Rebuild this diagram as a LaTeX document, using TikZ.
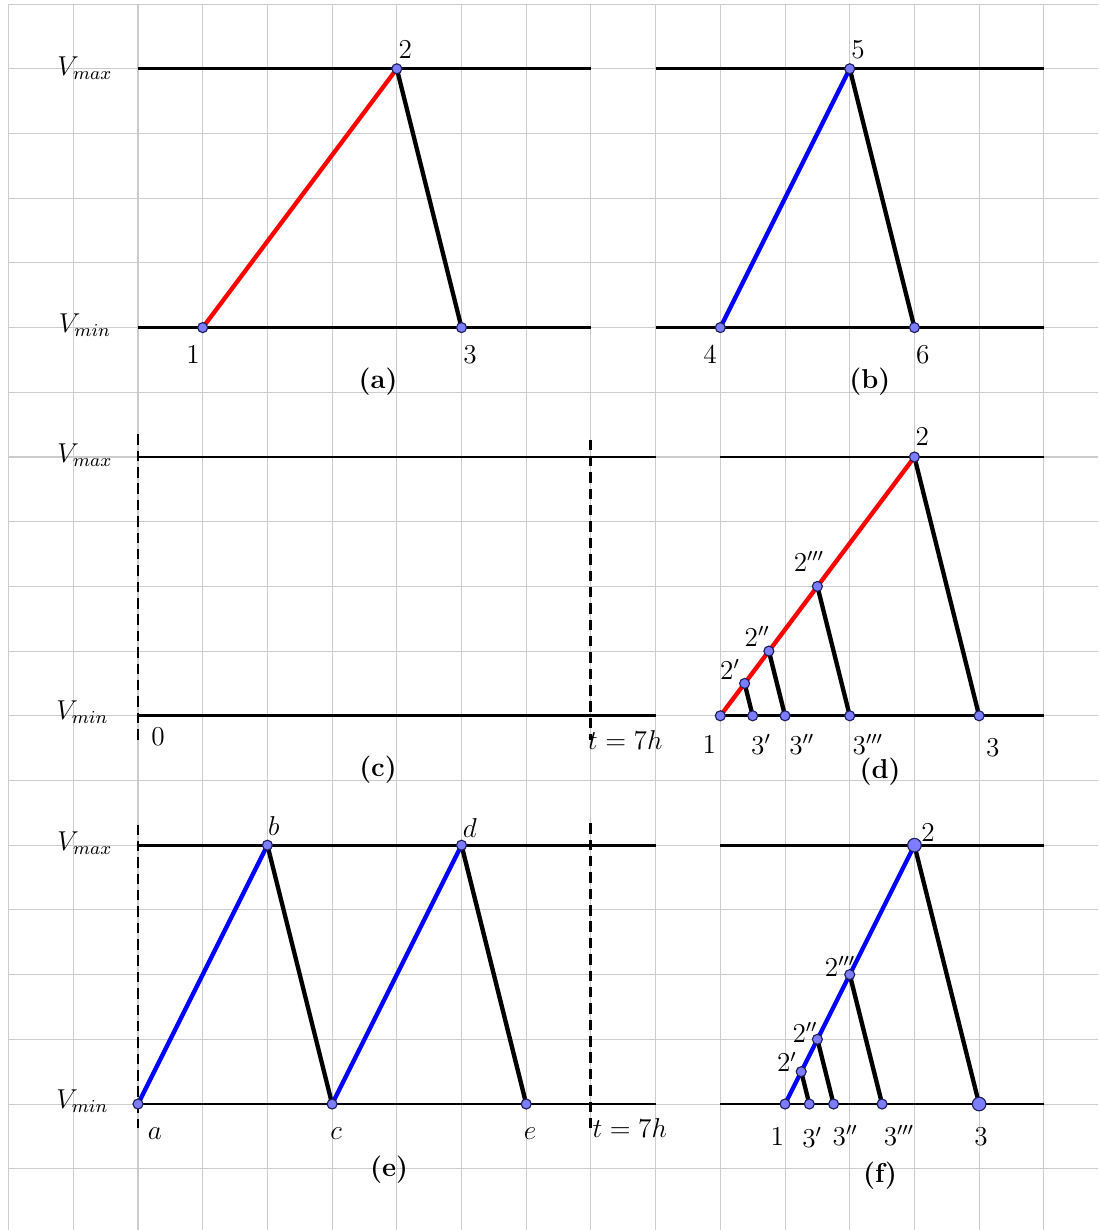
\documentclass[tikz,border=0pt]{standalone}
\usepackage{amsmath}
\usetikzlibrary{calc}
\definecolor{gridgray}{RGB}{204,204,204}
\definecolor{dotfill}{RGB}{125,125,255}
\definecolor{dotline}{RGB}{30,30,90}

\tikzset{
  level/.style={line width=1.2pt},
  ramp/.style={line width=1.9pt},
  bound/.style={line width=1.3pt, dash pattern=on 4.6pt off 2.6pt},
  dot/.style={circle, fill=dotfill, draw=dotline, line width=0.5pt, inner sep=0pt, minimum size=0.155cm},
  bigdot/.style={dot, minimum size=0.21cm},
  lbl/.style={font=\large, inner sep=1pt},
}

\begin{document}
\begin{tikzpicture}
% Frame and grid
\useasboundingbox (-2.133,-1.947) rectangle (14.838,17.063);
\draw[gridgray, line width=0.45pt] (-2,-1.947) grid (14.838,17);

% Points of all panels
\coordinate (a-1) at (1,12);  \coordinate (a-2) at (4,16);  \coordinate (a-3) at (5,12);
\coordinate (b-4) at (9,12);  \coordinate (b-5) at (11,16); \coordinate (b-6) at (12,12);
\coordinate (d-1) at (9,6);   \coordinate (d-2) at (12,10); \coordinate (d-3) at (13,6);
\coordinate (d-2p) at (9.375,6.5); \coordinate (d-3p) at (9.5,6);
\coordinate (d-2pp) at (9.75,7);   \coordinate (d-3pp) at (10,6);
\coordinate (d-2ppp) at (10.5,8);  \coordinate (d-3ppp) at (11,6);
\coordinate (e-a) at (0,0); \coordinate (e-b) at (2,4); \coordinate (e-c) at (3,0);
\coordinate (e-d) at (5,4); \coordinate (e-e) at (6,0);
\coordinate (f-1) at (10,0);  \coordinate (f-2) at (12,4); \coordinate (f-3) at (13,0);
\coordinate (f-2p) at (10.25,0.5); \coordinate (f-3p) at (10.375,0);
\coordinate (f-2pp) at (10.5,1);   \coordinate (f-3pp) at (10.75,0);
\coordinate (f-2ppp) at (11,2);    \coordinate (f-3ppp) at (11.5,0);

% Level lines
\foreach \y in {16,12} {
  \draw[level] (0,\y) coordinate (L-\y) -- (7,\y) coordinate (R-\y);
  \draw[level] (8,\y) coordinate (LL-\y) -- (14,\y) coordinate (RR-\y);
}
\foreach \y in {10,6,4,0} {
  \draw[level] (0,\y) coordinate (L-\y) -- (8,\y) coordinate (R-\y);
  \draw[level] (9,\y) coordinate (LL-\y) -- (14,\y) coordinate (RR-\y);
}

% Time bounds
\coordinate (c-t0a) at (0,10.35); \coordinate (c-t0b) at (0,5.63);
\coordinate (c-t7a) at (7,10.27); \coordinate (c-t7b) at (7,5.63);
\coordinate (e-t0a) at (0,4.32);  \coordinate (e-t0b) at (0,-0.37);
\coordinate (e-t7a) at (7,4.34);  \coordinate (e-t7b) at (7,-0.37);
\draw[bound] (c-t0a) -- (c-t0b);
\draw[bound] (c-t7a) -- (c-t7b);
\draw[bound] (e-t0a) -- (e-t0b);
\draw[bound] (e-t7a) -- (e-t7b);

% Ramps
\draw[ramp, red] (a-1) -- (a-2);
\draw[ramp] (a-2) -- (a-3);
\draw[ramp, blue] (b-4) -- (b-5);
\draw[ramp] (b-5) -- (b-6);
\draw[ramp, red] (d-1) -- (d-2);
\draw[ramp] (d-2) -- (d-3);
\draw[ramp] (d-2p) -- (d-3p);
\draw[ramp] (d-2pp) -- (d-3pp);
\draw[ramp] (d-2ppp) -- (d-3ppp);
\draw[ramp, blue] (e-a) -- (e-b);
\draw[ramp] (e-b) -- (e-c);
\draw[ramp, blue] (e-c) -- (e-d);
\draw[ramp] (e-d) -- (e-e);
\draw[ramp, blue] (f-1) -- (f-2);
\draw[ramp] (f-2) -- (f-3);
\draw[ramp] (f-2p) -- (f-3p);
\draw[ramp] (f-2pp) -- (f-3pp);
\draw[ramp] (f-2ppp) -- (f-3ppp);

% Dots
\foreach \p in {a-1,a-2,a-3,b-4,b-5,b-6,d-1,d-2,d-3,d-2p,d-3p,d-2pp,d-3pp,d-2ppp,d-3ppp,
                e-a,e-b,e-c,e-d,e-e,f-1,f-2p,f-3p,f-2pp,f-3pp,f-2ppp,f-3ppp}
  \node[dot] (dot-\p) at (\p) {};
\node[bigdot] (dot-f-2) at (f-2) {};
\node[bigdot] (dot-f-3) at (f-3) {};

% Level names
\node[lbl] (vmax-a) at (-0.82,16.01) {$V_{max}$};
\node[lbl] (vmin-a) at (-0.82,12.04) {$V_{min}$};
\node[lbl] (vmax-c) at (-0.82,10.03) {$V_{max}$};
\node[lbl] (vmin-c) at (-0.86,6.06) {$V_{min}$};
\node[lbl] (vmax-e) at (-0.82,4.03) {$V_{max}$};
\node[lbl] (vmin-e) at (-0.86,0.05) {$V_{min}$};

% Panel (a)
\node[lbl] (la-1) at (0.85,11.58) {$1$};
\node[lbl] (la-2) at (4.13,16.29) {$2$};
\node[lbl] (la-3) at (5.13,11.58) {$3$};
\node[lbl] (cap-a) at (3.71,11.16) {\textbf{(a)}};

% Panel (b)
\node[lbl] (lb-4) at (8.84,11.58) {$4$};
\node[lbl] (lb-5) at (11.13,16.29) {$5$};
\node[lbl] (lb-6) at (12.13,11.58) {$6$};
\node[lbl] (cap-b) at (11.31,11.16) {\textbf{(b)}};

% Panel (c)
\node[lbl] (lc-0) at (0.31,5.67) {$0$};
\node[lbl] (lc-t) at (7.53,5.63) {$t=7h$};
\node[lbl] (cap-c) at (3.71,5.16) {\textbf{(c)}};

% Panel (d)
\node[lbl] (ld-2) at (12.12,10.31) {$2$};
\node[lbl] (ld-2ppp) at (10.37,8.38) {$2'''$};
\node[lbl] (ld-2pp) at (9.57,7.23) {$2''$};
\node[lbl] (ld-2p) at (9.15,6.71) {$2'$};
\node[lbl] (ld-1) at (8.83,5.56) {$1$};
\node[lbl] (ld-3p) at (9.63,5.56) {$3'$};
\node[lbl] (ld-3pp) at (10.26,5.56) {$3''$};
\node[lbl] (ld-3ppp) at (11.28,5.56) {$3'''$};
\node[lbl] (ld-3) at (13.21,5.50) {$3$};
\node[lbl] (cap-d) at (11.47,5.13) {\textbf{(d)}};

% Panel (e)
\node[lbl] (le-a) at (0.26,-0.45) {$a$};
\node[lbl] (le-b) at (2.10,4.30) {$b$};
\node[lbl] (le-c) at (3.06,-0.45) {$c$};
\node[lbl] (le-d) at (5.13,4.27) {$d$};
\node[lbl] (le-e) at (6.06,-0.45) {$e$};
\node[lbl] (le-t) at (7.60,-0.37) {$t=7h$};
\node[lbl] (cap-e) at (3.88,-1.02) {\textbf{(e)}};

% Panel (f)
\node[lbl] (lf-2) at (12.21,4.19) {$2$};
\node[lbl] (lf-2ppp) at (10.85,2.13) {$2'''$};
\node[lbl] (lf-2pp) at (10.31,1.11) {$2''$};
\node[lbl] (lf-2p) at (10.03,0.65) {$2'$};
\node[lbl] (lf-1) at (9.88,-0.51) {$1$};
\node[lbl] (lf-3p) at (10.42,-0.51) {$3'$};
\node[lbl] (lf-3pp) at (10.93,-0.48) {$3''$};
\node[lbl] (lf-3ppp) at (11.76,-0.48) {$3'''$};
\node[lbl] (lf-3) at (13.03,-0.51) {$3$};
\node[lbl] (cap-f) at (11.47,-1.10) {\textbf{(f)}};
\end{tikzpicture}
\end{document}
